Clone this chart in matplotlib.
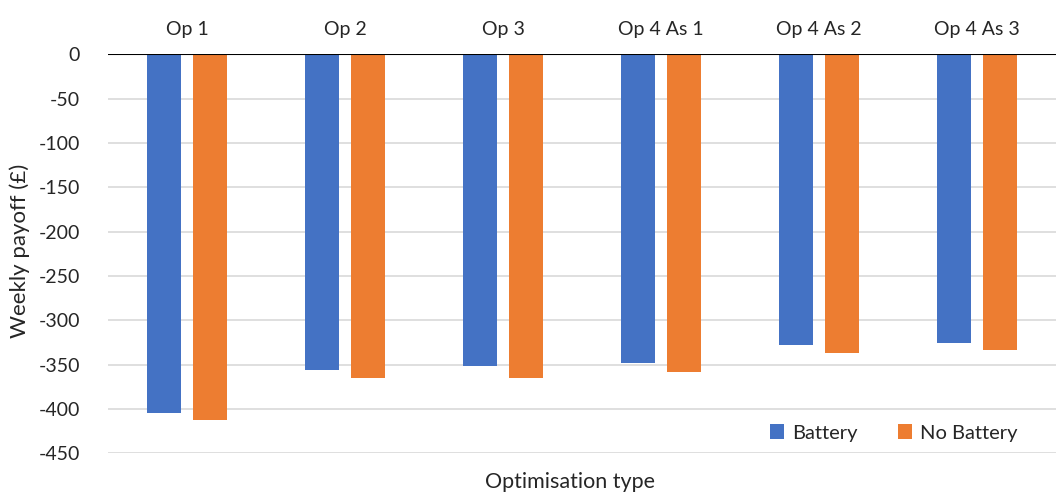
import matplotlib
matplotlib.use("Agg")
import matplotlib.pyplot as plt
import numpy as np

categories = ["Op 1", "Op 2", "Op 3", "Op 4 As 1", "Op 4 As 2", "Op 4 As 3"]
battery = [-404, -356, -352, -348, -328, -326]
no_battery = [-413, -365, -365, -358, -337, -334]
series_names = ["Battery", "No Battery"]
yticks = list(range(0, -451, -50))

plt.rcParams["font.family"] = ["Lato", "DejaVu Sans"]

fig = plt.figure(figsize=(10.58, 4.98), dpi=100)
W, H = 1058, 498
ax = fig.add_axes([108 / W, 1 - 453.3 / H, (1056 - 108) / W, (453.3 - 54.3) / H])

x = np.arange(len(categories))
bw = 0.215
ax.bar(x - 0.143, battery, bw, color="#4472C4", label=series_names[0], zorder=3)
ax.bar(x + 0.143, no_battery, bw, color="#ED7D31", label=series_names[1], zorder=3)

ax.set_xlim(-0.5, len(categories) - 0.5)
ax.set_ylim(-450, 0)
ax.set_yticks(yticks)
ax.set_yticklabels([str(t) for t in yticks])
ax.yaxis.grid(True, color="#D9D9D9", linewidth=1.2, zorder=0)
ax.axhline(0, color="black", linewidth=1.5, zorder=4)

ax.set_xticks(x)
ax.set_xticklabels(categories)
ax.xaxis.tick_top()
ax.tick_params(axis="x", length=0, pad=12, labelsize=14, colors="#262626")
ax.tick_params(axis="y", length=0, pad=20, labelsize=14, colors="#262626")

for s in ax.spines.values():
    s.set_visible(False)

ax.set_ylabel("Weekly payoff (£)", fontsize=16, color="#262626")
ax.yaxis.set_label_coords(-78 / 948, 0.507)
fig.text(570 / W, 1 - 482 / H, "Optimisation type", ha="center", va="center",
         fontsize=15.5, color="#262626")

ax.legend(loc="center left", bbox_to_anchor=((770 - 108) / 948, (453.3 - 433) / 399),
          ncol=2, frameon=False, fontsize=14.5, handlelength=0.7, handleheight=0.7,
          handletextpad=0.4, columnspacing=2.0, labelcolor="#262626",
          borderaxespad=0, borderpad=0)

fig.savefig("out.png", dpi=100, facecolor="white")
